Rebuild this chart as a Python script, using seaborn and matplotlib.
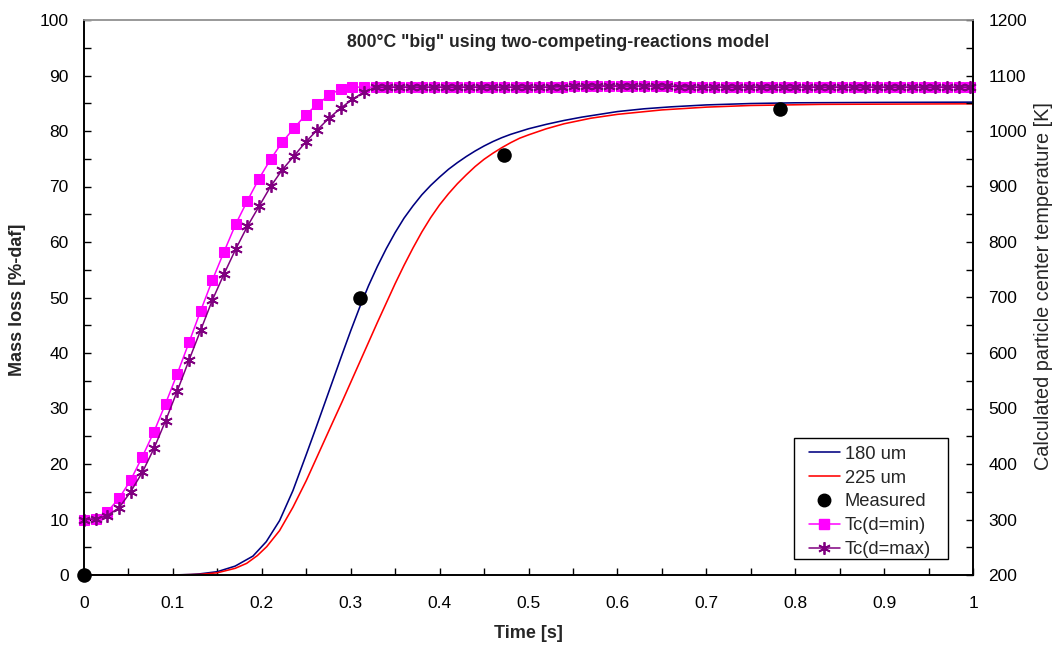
import numpy as np
import pandas as pd
import matplotlib
matplotlib.use("Agg")
import matplotlib.pyplot as plt
from matplotlib.ticker import MultipleLocator
from matplotlib.lines import Line2D
from matplotlib.patches import Rectangle
import seaborn as sns

# ---------------- data ----------------
t_180 = [0.0, 0.10, 0.12, 0.13, 0.15, 0.17, 0.19, 0.205, 0.22, 0.235, 0.25, 0.26,
         0.27, 0.28, 0.29, 0.30, 0.31, 0.32, 0.33, 0.34, 0.35, 0.36, 0.37, 0.38,
         0.39, 0.40, 0.41, 0.42, 0.43, 0.44, 0.45, 0.46, 0.47, 0.48, 0.49, 0.50,
         0.52, 0.54, 0.56, 0.58, 0.60, 0.63, 0.66, 0.70, 0.75, 0.80, 0.90, 1.0]
ml_180 = [0.0, 0.0, 0.1, 0.2, 0.6, 1.6, 3.4, 6.0, 9.8, 15.2, 21.7, 26.1,
          30.6, 35.1, 39.6, 44.0, 48.2, 52.1, 55.6, 58.8, 61.7, 64.3, 66.5, 68.5,
          70.2, 71.7, 73.1, 74.3, 75.4, 76.4, 77.3, 78.1, 78.8, 79.4, 79.9, 80.4,
          81.2, 81.9, 82.5, 83.0, 83.5, 84.0, 84.35, 84.7, 84.95, 85.08, 85.15, 85.2]

t_225 = [0.0, 0.10, 0.13, 0.15, 0.17, 0.183, 0.195, 0.2055, 0.22, 0.235, 0.25, 0.265,
         0.28, 0.29, 0.30, 0.31, 0.32, 0.33, 0.34, 0.35, 0.36, 0.37, 0.38, 0.39,
         0.40, 0.41, 0.42, 0.43, 0.44, 0.45, 0.46, 0.47, 0.48, 0.49, 0.50, 0.52,
         0.54, 0.57, 0.60, 0.65, 0.70, 0.75, 0.83, 1.0]
ml_225 = [0.0, 0.0, 0.1, 0.4, 1.2, 2.1, 3.5, 5.1, 8.0, 12.2, 17.0, 22.3,
          27.6, 31.1, 34.7, 38.3, 41.9, 45.5, 49.0, 52.5, 55.8, 58.9, 61.8, 64.4,
          66.7, 68.7, 70.5, 72.1, 73.6, 74.9, 76.0, 77.0, 77.9, 78.7, 79.3, 80.4,
          81.3, 82.3, 83.0, 83.8, 84.3, 84.6, 84.8, 84.9]

t_meas = [0.0, 0.31, 0.4725, 0.7825]
ml_meas = [0.0, 50.0, 75.7, 84.0]

t_tc = [0.0000, 0.0131, 0.0262, 0.0394, 0.0525, 0.0656, 0.0787, 0.0918, 0.1050, 0.1181,
        0.1312, 0.1443, 0.1574, 0.1706, 0.1837, 0.1968, 0.2099, 0.2230, 0.2362, 0.2493,
        0.2624, 0.2755, 0.2886, 0.3018, 0.3149, 0.3280, 0.3411, 0.3542, 0.3674, 0.3805,
        0.3936, 0.4067, 0.4198, 0.4330, 0.4461, 0.4592, 0.4723, 0.4854, 0.4986, 0.5117,
        0.5248, 0.5379, 0.5510, 0.5642, 0.5773, 0.5904, 0.6035, 0.6166, 0.6298, 0.6429,
        0.6560, 0.6691, 0.6822, 0.6954, 0.7085, 0.7216, 0.7347, 0.7478, 0.7610, 0.7741,
        0.7872, 0.8003, 0.8134, 0.8266, 0.8397, 0.8528, 0.8659, 0.8790, 0.8922, 0.9053,
        0.9184, 0.9315, 0.9446, 0.9578, 0.9709, 0.9840, 0.9971]

tc_min = [300, 301, 314, 338, 371, 413, 458, 509, 563, 619,
          676, 731, 782, 832, 874, 914, 949, 980, 1005, 1029,
          1048, 1064, 1076, 1079, 1079, 1079, 1079, 1079, 1079, 1079,
          1079, 1079, 1079, 1079, 1079, 1079, 1079, 1079, 1079, 1079,
          1079, 1080, 1081, 1081, 1081, 1081, 1081, 1081, 1081, 1081,
          1081, 1080, 1079, 1079, 1079, 1079, 1079, 1079, 1079, 1079,
          1079, 1079, 1079, 1079, 1079, 1079, 1079, 1079, 1079, 1079,
          1079, 1079, 1079, 1079, 1079, 1079, 1079]
tc_max = [300, 301, 307, 321, 350, 385, 428, 478, 532, 587,
          641, 695, 742, 787, 828, 864, 900, 930, 955, 980,
          1002, 1023, 1041, 1057, 1070, 1079, 1079, 1079, 1079, 1079,
          1079, 1079, 1079, 1079, 1079, 1079, 1079, 1079, 1079, 1079,
          1079, 1080, 1081, 1081, 1081, 1081, 1081, 1081, 1081, 1081,
          1081, 1080, 1079, 1079, 1079, 1079, 1079, 1079, 1079, 1079,
          1079, 1079, 1079, 1079, 1079, 1079, 1079, 1079, 1079, 1079,
          1079, 1079, 1079, 1079, 1079, 1079, 1079]

labels = ["180 um", "225 um", "Measured", "Tc(d=min)", "Tc(d=max)"]
title = '800°C "big" using two-competing-reactions model'

# ---------------- style ----------------
sns.set_style("white")
plt.rcParams["font.family"] = ["Liberation Sans", "DejaVu Sans"]
plt.rcParams["font.size"] = 12.5

C180, C225, CMIN, CMAX = "#000080", "#FF0000", "#FF00FF", "#800080"
W, H = 1056, 646

fig = plt.figure(figsize=(W/100, H/100), dpi=100)
ax = fig.add_axes([84/W, 1 - 575/H, (973-84)/W, (575-20)/H])
ax2 = ax.twinx()

# mass loss curves
sns.lineplot(x=t_180, y=ml_180, ax=ax, color=C180, lw=1.15, sort=False, estimator=None)
sns.lineplot(x=t_225, y=ml_225, ax=ax, color=C225, lw=1.15, sort=False, estimator=None)
sns.scatterplot(x=t_meas, y=ml_meas, ax=ax, color="black", s=110, edgecolor="black",
                linewidth=0, zorder=5, clip_on=False)

# temperature curves
sns.lineplot(x=t_tc, y=tc_min, ax=ax2, color=CMIN, lw=1.1, marker="s", markersize=7,
             markeredgecolor=CMIN, markerfacecolor=CMIN, sort=False, estimator=None,
             clip_on=False)
sns.lineplot(x=t_tc, y=tc_max, ax=ax2, color=CMAX, lw=1.1, marker=(6, 2, 0), markersize=9,
             markeredgecolor=CMAX, markeredgewidth=1.3, sort=False, estimator=None,
             clip_on=False)

# axes limits & ticks
ax.set_xlim(0, 1)
ax.set_ylim(0, 100)
ax2.set_ylim(200, 1200)
ax.xaxis.set_major_locator(MultipleLocator(0.1))
ax.xaxis.set_minor_locator(MultipleLocator(0.05))
ax.yaxis.set_major_locator(MultipleLocator(10))
ax.yaxis.set_minor_locator(MultipleLocator(5))
ax2.yaxis.set_major_locator(MultipleLocator(100))
ax2.yaxis.set_minor_locator(MultipleLocator(50))
ax.xaxis.set_major_formatter(plt.FuncFormatter(lambda v, p: f"{v:g}"))

for a in (ax, ax2):
    a.tick_params(which="both", direction="in", length=5, width=1.0, colors="black",
                  labelsize=12.5)
ax.tick_params(axis="y", which="both", pad=11, left=True, right=False)
ax.tick_params(axis="x", which="both", pad=15, bottom=True, top=False)
ax2.tick_params(axis="y", which="both", pad=11, right=True, left=False)

for a in (ax, ax2):
    for s in ("left", "right", "bottom"):
        a.spines[s].set_color("black")
        a.spines[s].set_linewidth(1.2)
    a.spines["top"].set_color("#999999")
    a.spines["top"].set_linewidth(1.2)

ax.set_xlabel("Time [s]", fontsize=13, fontweight="bold")
ax.xaxis.set_label_coords(0.5, (575 - 634) / 555, transform=ax.transAxes)
ax.xaxis.label.set_va("center")
ax.set_ylabel("Mass loss [%-daf]", fontsize=13, fontweight="bold")
ax.yaxis.set_label_coords((18 - 84) / 889, (575 - 300) / 555, transform=ax.transAxes)
ax.yaxis.label.set_va("center")
ax2.set_ylabel("Calculated particle center temperature [K]", fontsize=14.3)
ax2.yaxis.set_label_coords((1043 - 84) / 889, (575 - 286) / 555, transform=ax.transAxes)
ax2.yaxis.label.set_va("center")
ax2.yaxis.label.set_rotation(90)

ax.text(0.533, 0.96, title, transform=ax.transAxes, ha="center", va="center",
        fontsize=12.7, fontweight="bold")

# legend (frame drawn separately to get the reference's padding)
handles = [
    Line2D([], [], color=C180, lw=1.15),
    Line2D([], [], color=C225, lw=1.15),
    Line2D([], [], color="black", lw=0, marker="o", markersize=9),
    Line2D([], [], color=CMIN, lw=1.1, marker="s", markersize=7),
    Line2D([], [], color=CMAX, lw=1.1, marker=(6, 2, 0), markersize=9, markeredgewidth=1.3),
]
leg = ax2.legend(handles, labels, loc="lower left",
                 bbox_to_anchor=(809/W, 1 - 558/H), bbox_transform=fig.transFigure,
                 frameon=False, fontsize=13.2, handlelength=1.68, handletextpad=0.27,
                 labelspacing=0.37, borderpad=0.0, borderaxespad=0)
box = Rectangle((794/W, 1 - 559/H), (948-794)/W, (559-438)/H, transform=fig.transFigure,
                facecolor="white", edgecolor="black", lw=1.0, zorder=9)
ax2.add_artist(box)
box.set_clip_on(False)
leg.set_zorder(10)

fig.savefig("out.png", dpi=100)
